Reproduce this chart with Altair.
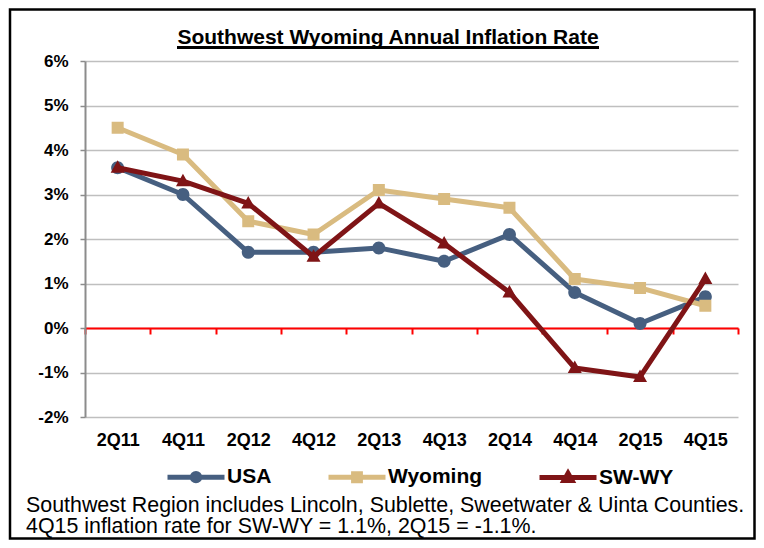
import altair as alt
import pandas as pd

quarters = ["2Q11", "4Q11", "2Q12", "4Q12", "2Q13", "4Q13", "2Q14", "4Q14", "2Q15", "4Q15"]
usa = [3.6, 3.0, 1.7, 1.7, 1.8, 1.5, 2.1, 0.8, 0.1, 0.7]
wyoming = [4.5, 3.9, 2.4, 2.1, 3.1, 2.9, 2.7, 1.1, 0.9, 0.5]
sw_wy = [3.6, 3.3, 2.8, 1.6, 2.8, 1.9, 0.8, -0.9, -1.1, 1.1]
series_names = ["USA", "Wyoming", "SW-WY"]
series_colors = ["#465f80", "#d9bb80", "#7f1416"]
y_ticks = [-2, -1, 0, 1, 2, 3, 4, 5, 6]
title_text = "Southwest Wyoming Annual Inflation Rate"
footnote = [
    "Southwest Region includes Lincoln, Sublette, Sweetwater & Uinta Counties.",
    "4Q15 inflation rate for SW-WY = 1.1%, 2Q15 = -1.1%.",
]

rows = []
for name, vals in zip(series_names, [usa, wyoming, sw_wy]):
    for q, v in zip(quarters, vals):
        rows.append({"quarter": q, "series": name, "value": v})
df = pd.DataFrame(rows)
one = pd.DataFrame({"k": [0]})

PW, PH = 653, 356
FONT = "Liberation Sans"

# marker shapes: invisible horizontal line (only visible when stroked in legend) + marker
marker_paths = [
    "M-1,0L1,0M0.13,0A0.13,0.13,0,1,1,-0.13,0A0.13,0.13,0,1,1,0.13,0Z",
    "M-1,0L1,0M-0.12,-0.12H0.12V0.12H-0.12Z",
    "M-1,0L1,0M0,-0.15L0.14,0.1H-0.14Z",
]

x_scale = alt.Scale(domain=quarters, type="point", padding=0.5)
y_scale = alt.Scale(domain=[-2, 6], nice=False, zero=False)

y_axis = alt.Axis(
    values=y_ticks, labelExpr="datum.value + '%'", title=None,
    labelFont=FONT, labelFontSize=17, labelFontWeight="bold", labelColor="black",
    labelPadding=12, domainColor="#8c8c8c", domainWidth=2, tickColor="#8c8c8c",
    tickSize=5, tickWidth=1.5, gridColor="#bfbfbf", gridWidth=1.3,
)
x_axis = alt.Axis(
    title=None, orient="bottom", labelAngle=0, domain=False, ticks=False, tickSize=0, grid=False,
    labelFont=FONT, labelFontSize=18, labelFontWeight="bold", labelColor="black",
    labelPadding=28.7, labelBaseline="alphabetic",
)
zero_axis = alt.Axis(
    title=None, orient="bottom", offset=-89, labels=False, grid=False,
    domainColor="#ff0000", domainWidth=2, ticks=True, tickColor="#ff0000",
    tickWidth=2, tickSize=6, tickBand="extent",
)

legend = alt.Legend(
    orient="none", legendX=80, legendY=385, direction="horizontal", title=None,
    labelFont=FONT, labelFontSize=21, labelFontWeight="bold", labelColor="black",
    symbolSize=3249, symbolStrokeWidth=5, labelOffset=0, columnPadding=46, padding=0,
    gridAlign="each",
)
color_scale = alt.Scale(domain=series_names, range=series_colors)
shape_scale = alt.Scale(domain=series_names, range=marker_paths)

data_layers = []
for name in series_names:
    base = alt.Chart(df).transform_filter(alt.datum.series == name)
    line = base.mark_line(strokeWidth=5, strokeJoin="round", strokeCap="round").encode(
        x=alt.X("quarter:N", sort=quarters, scale=x_scale, axis=x_axis),
        y=alt.Y("value:Q", scale=y_scale, axis=y_axis),
        stroke=alt.Stroke("series:N", scale=color_scale, legend=legend),
    )
    pts = base.mark_point(filled=True, size=10000, strokeWidth=0, opacity=1).encode(
        x=alt.X("quarter:N", sort=quarters, scale=x_scale, axis=x_axis),
        y=alt.Y("value:Q", scale=y_scale, axis=y_axis),
        fill=alt.Fill("series:N", scale=color_scale, legend=legend),
        stroke=alt.Stroke("series:N", scale=color_scale, legend=legend),
        shape=alt.Shape("series:N", scale=shape_scale, legend=legend),
    )
    data_layers += [line, pts]

data = alt.layer(*data_layers)

zero_layer = alt.Chart(df).transform_filter(alt.datum.series == "USA").mark_bar(opacity=0).encode(
    x=alt.X("quarter:N", sort=quarters,
            scale=alt.Scale(domain=quarters, paddingInner=0, paddingOuter=0), axis=zero_axis),
    y=alt.Y("value:Q", scale=y_scale, axis=y_axis),
)

title_mark = alt.Chart(one).mark_text(
    text=title_text, font=FONT, fontSize=21, fontWeight="bold", align="center",
    baseline="alphabetic", color="black",
).encode(x=alt.value(303), y=alt.value(-16.7))
underline = alt.Chart(one).mark_rule(color="black", strokeWidth=3).encode(
    x=alt.value(92), x2=alt.value(514), y=alt.value(-13.5)
)
foot = alt.Chart(one).mark_text(
    text=footnote, font=FONT, fontSize=21.4, align="left", baseline="alphabetic",
    lineHeight=21, color="black",
).encode(x=alt.value(-59), y=alt.value(450.5))
border = alt.Chart(one).mark_rect(fillOpacity=0, stroke="black", strokeWidth=2.5).encode(
    x=alt.value(-75), x2=alt.value(669.5), y=alt.value(-51.5), y2=alt.value(477.5)
)

chart = alt.layer(zero_layer, data, title_mark, underline, foot, border).resolve_scale(
    x="independent"
).properties(
    width=PW, height=PH,
    autosize=alt.AutoSizeParams(type="none"),
    padding={"left": 77, "top": 53, "right": 18, "bottom": 123},
    background="white",
).configure_view(stroke=None)

chart.save("out.html", embed_options={"renderer": "svg", "actions": False})
